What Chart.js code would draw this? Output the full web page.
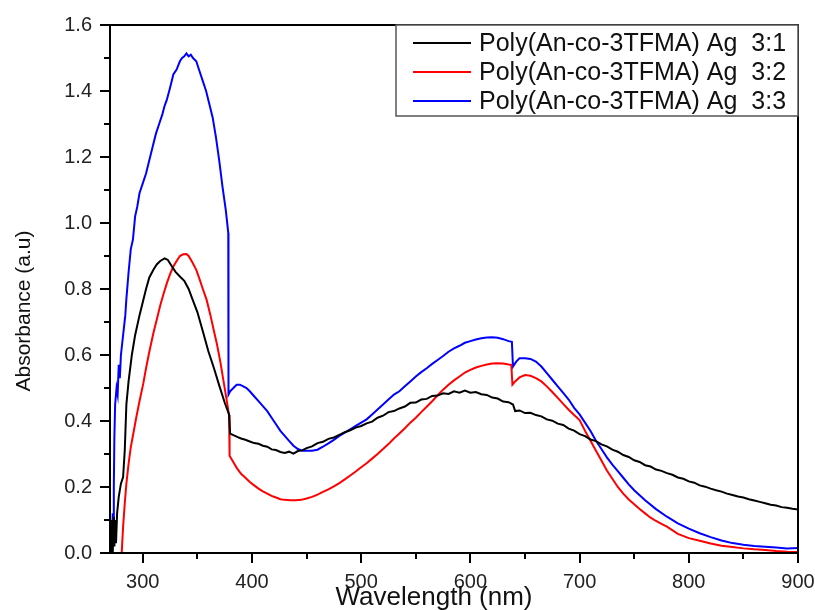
<!DOCTYPE html>
<html>
<head>
<meta charset="utf-8">
<script src="https://cdn.jsdelivr.net/npm/chart.js@4.4.1/dist/chart.umd.min.js"></script>
<style>
  html, body { margin: 0; padding: 0; background: #fff; }
</style>
</head>
<body>
<canvas id="uv" width="815" height="610"></canvas>
<script>
/* ===================================
   DATA
   =================================== */

const seriesLabels = [
  'Poly(An-co-3TFMA) Ag  3:1',
  'Poly(An-co-3TFMA) Ag  3:2',
  'Poly(An-co-3TFMA) Ag  3:3',
];
const seriesColors = ['#000000', '#ff0000', '#0000ff'];

const xTicks = [300, 400, 500, 600, 700, 800, 900];
const yTicks = [0, 0.2, 0.4, 0.6, 0.8, 1.0, 1.2, 1.4, 1.6];

// 3:1 (black)
const wlBlack = [
  271, 272, 272.5, 273.5, 274, 275, 275.5, 276.5, 278, 280, 282, 283.5, 285, 287, 290, 293, 297, 300,
  303, 306, 310, 313, 316, 320, 323, 326, 330, 334, 338, 342, 346, 350, 355, 360, 365, 370, 375, 379,
  380, 383, 387, 390, 394, 398, 402, 406, 410, 414, 418, 422, 426, 430, 434, 438, 442, 446, 450, 455,
  460, 465, 470, 475, 480, 485, 490, 495, 500, 505, 510, 515, 520, 525, 530, 535, 540, 545, 550, 555,
  560, 565, 570, 575, 580, 585, 590, 595, 600, 605, 610, 615, 620, 625, 630, 635, 639,
  641, 645, 650, 655, 660, 665, 670, 675, 680, 685, 690, 695, 700, 705, 710, 715, 720, 725, 730, 735,
  740, 745, 750, 755, 760, 765, 770, 775, 780, 785, 790, 795, 800, 805, 810, 815, 820, 825, 830, 835,
  840, 845, 850, 855, 860, 865, 870, 875, 880, 885, 890, 895, 900,
];
const absBlack = [
  0.0, 0.1, 0.0, 0.11, 0.02, 0.1, 0.03, 0.12, 0.17, 0.21, 0.23, 0.31, 0.45, 0.52, 0.6, 0.66, 0.72, 0.76,
  0.8, 0.835, 0.86, 0.875, 0.885, 0.893, 0.888, 0.872, 0.852, 0.838, 0.825, 0.8, 0.765, 0.73, 0.672, 0.612, 0.562, 0.508, 0.456, 0.42,
  0.362, 0.357, 0.351, 0.347, 0.343, 0.338, 0.333, 0.331, 0.325, 0.322, 0.314, 0.312, 0.306, 0.303, 0.307, 0.301, 0.309, 0.311, 0.318, 0.323,
  0.333, 0.337, 0.346, 0.35, 0.358, 0.366, 0.372, 0.38, 0.385, 0.393, 0.398, 0.41, 0.416, 0.427, 0.43, 0.438, 0.444, 0.455, 0.456, 0.465,
  0.467, 0.476, 0.477, 0.484, 0.482, 0.49, 0.486, 0.492, 0.486, 0.488, 0.481, 0.479, 0.471, 0.468, 0.459, 0.457, 0.45,
  0.43, 0.432, 0.424, 0.425, 0.418, 0.414, 0.405, 0.401, 0.392, 0.388, 0.377, 0.371, 0.36, 0.354, 0.344, 0.339, 0.329, 0.323, 0.313, 0.307,
  0.297, 0.291, 0.281, 0.276, 0.266, 0.262, 0.253, 0.249, 0.242, 0.237, 0.229, 0.225, 0.217, 0.213, 0.205, 0.201, 0.195, 0.19, 0.186, 0.18,
  0.176, 0.171, 0.168, 0.163, 0.159, 0.155, 0.151, 0.146, 0.144, 0.139, 0.137, 0.134, 0.132,
];

// 3:2 (red)
const wlRed = [
  280.7, 282, 283.5, 285, 287, 289, 291.4, 294, 297, 300.5, 303, 306, 309.7, 313, 316, 319, 322, 325,
  328, 331, 334, 337, 340, 342, 345, 349, 352, 355, 358.5, 362, 365, 368, 371, 374, 377, 379,
  379.5, 383, 386, 390, 394, 398, 402, 406, 410, 414, 418, 422, 426, 430, 435, 440, 445, 450, 455, 460,
  465, 470, 475, 480, 485, 490, 495, 500, 505, 510, 515, 520, 525, 530, 535, 540, 545, 550, 555, 560,
  565, 570, 575, 580, 585, 590, 595, 600, 605, 610, 615, 620, 625, 630, 635, 637.5,
  638.5, 641, 645, 650, 655, 660, 665, 670, 675, 680, 685, 690, 695, 700, 705, 710, 715, 720, 725, 730,
  735, 740, 745, 750, 755, 760, 765, 770, 775, 780, 790, 800, 810, 820, 830, 840, 850, 860, 870, 880, 890, 900,
];
const absRed = [
  0.0, 0.08, 0.15, 0.21, 0.27, 0.32, 0.363, 0.41, 0.46, 0.514, 0.56, 0.61, 0.666, 0.71, 0.75, 0.785, 0.817, 0.845,
  0.868, 0.885, 0.9, 0.905, 0.906, 0.9, 0.883, 0.858, 0.83, 0.8, 0.767, 0.72, 0.675, 0.632, 0.58, 0.52, 0.46, 0.418,
  0.295, 0.275, 0.258, 0.24, 0.228, 0.215, 0.205, 0.195, 0.187, 0.18, 0.173, 0.168, 0.163, 0.161, 0.16, 0.16, 0.161, 0.165, 0.17, 0.177,
  0.185, 0.193, 0.202, 0.212, 0.223, 0.235, 0.247, 0.26, 0.272, 0.286, 0.3, 0.315, 0.33, 0.347, 0.362, 0.378, 0.395, 0.41, 0.427, 0.443,
  0.46, 0.478, 0.495, 0.51, 0.523, 0.535, 0.547, 0.555, 0.562, 0.567, 0.571, 0.574, 0.575, 0.574, 0.571, 0.57,
  0.51, 0.52, 0.532, 0.539, 0.537, 0.53, 0.52, 0.505, 0.488, 0.47, 0.452, 0.434, 0.418, 0.403, 0.37, 0.34, 0.31, 0.28, 0.25, 0.225,
  0.2, 0.18, 0.162, 0.148, 0.133, 0.12, 0.107, 0.097, 0.088, 0.08, 0.058, 0.045, 0.037, 0.029, 0.022, 0.018, 0.014, 0.011, 0.009, 0.006, 0.004, 0.003,
];

// 3:3 (blue)
const wlBlue = [
  270.5, 271, 271.5, 272.5, 273, 273.5, 274, 274.7, 276, 277, 278, 279, 280, 282, 284, 285, 287, 289,
  291, 293, 295, 297, 300, 303, 306, 309, 312, 315, 318, 320, 322, 325, 328, 331, 334, 336, 338, 340,
  342, 344, 346, 349, 352, 355, 358, 361, 364, 367, 370, 373, 376, 378.3,
  378.5, 380, 383, 386, 389, 392, 395, 398, 402, 406, 410, 414, 418, 422, 426, 430, 434, 438, 442, 446,
  450, 455, 460, 465, 470, 475, 480, 485, 490, 495, 500, 505, 510, 515, 520, 525, 530, 535, 540, 545,
  550, 555, 560, 565, 570, 575, 580, 585, 590, 595, 600, 605, 610, 615, 620, 625, 630, 635, 638,
  639, 642, 645, 650, 655, 660, 665, 670, 675, 680, 685, 690, 695, 700, 705, 710, 715, 720, 725, 730,
  735, 740, 745, 750, 760, 770, 780, 790, 800, 810, 820, 830, 840, 850, 860, 870, 880, 890, 900,
];
const absBlue = [
  0.0, 0.1, 0.02, 0.12, 0.05, 0.2, 0.35, 0.45, 0.5, 0.48, 0.57, 0.53, 0.6, 0.66, 0.72, 0.77, 0.85, 0.92,
  0.95, 1.02, 1.05, 1.09, 1.12, 1.15, 1.19, 1.23, 1.27, 1.3, 1.33, 1.355, 1.373, 1.41, 1.45, 1.465, 1.49, 1.5, 1.505, 1.514,
  1.505, 1.51, 1.5, 1.49, 1.46, 1.43, 1.4, 1.36, 1.32, 1.26, 1.19, 1.11, 1.04, 0.97,
  0.48, 0.49, 0.5, 0.51, 0.51, 0.505, 0.5, 0.49, 0.475, 0.46, 0.445, 0.43, 0.41, 0.39, 0.37, 0.355, 0.34, 0.325, 0.315, 0.31,
  0.31, 0.31, 0.313, 0.322, 0.332, 0.343, 0.355, 0.365, 0.375, 0.385, 0.395, 0.405, 0.42, 0.435, 0.45, 0.465, 0.48, 0.49, 0.505, 0.52,
  0.535, 0.548, 0.56, 0.573, 0.585, 0.597, 0.61, 0.62, 0.628, 0.637, 0.642, 0.647, 0.651, 0.653, 0.654, 0.652, 0.648, 0.642, 0.64,
  0.565, 0.58, 0.59, 0.59, 0.588, 0.58, 0.565, 0.545, 0.525, 0.505, 0.485, 0.465, 0.44, 0.42, 0.395, 0.37, 0.34, 0.315, 0.29, 0.268,
  0.248, 0.228, 0.208, 0.19, 0.16, 0.133, 0.11, 0.09, 0.074, 0.06, 0.048, 0.038, 0.03, 0.025, 0.021, 0.019, 0.017, 0.014, 0.015,
];

/* ===================================
   HELPERS
   =================================== */

const FONT = '"Liberation Sans", Arial, sans-serif';

function toPoints(xs, ys) {
  return xs.map(function (x, i) { return { x: x, y: ys[i] }; });
}

// frame, minor/major tick marks, axis titles and the boxed legend
const framePlugin = {
  id: 'frame',
  afterDatasetsDraw(chart) {
    const ctx = chart.ctx;
    const a = chart.chartArea;
    const xs = chart.scales.x;
    const ys = chart.scales.y;
    ctx.save();
    ctx.strokeStyle = '#000';
    ctx.lineWidth = 2;
    ctx.strokeRect(a.left, a.top, a.right - a.left, a.bottom - a.top);

    ctx.beginPath();
    for (let v = 300; v <= 900; v += 50) {
      const px = Math.round(xs.getPixelForValue(v));
      const len = v % 100 === 0 ? 10 : 6;
      ctx.moveTo(px, a.bottom);
      ctx.lineTo(px, a.bottom + len);
    }
    for (let i = 0; i <= 16; i++) {
      const py = Math.round(ys.getPixelForValue(i / 10));
      const len = i % 2 === 0 ? 10 : 6;
      ctx.moveTo(a.left, py);
      ctx.lineTo(a.left - len, py);
    }
    ctx.stroke();

    ctx.fillStyle = '#111';
    ctx.textAlign = 'center';
    ctx.textBaseline = 'middle';
    ctx.font = '26px ' + FONT;
    ctx.fillText('Wavelength (nm)', 434, 598);
    ctx.save();
    ctx.translate(24, 311);
    ctx.rotate(-Math.PI / 2);
    ctx.font = '21px ' + FONT;
    ctx.fillText('Absorbance (a.u)', 0, 0);
    ctx.restore();

    // legend
    const box = { left: 396, top: 25, right: 798, bottom: 116 };
    ctx.fillStyle = '#fff';
    ctx.fillRect(box.left, box.top, box.right - box.left, box.bottom - box.top);
    ctx.strokeStyle = '#555';
    ctx.lineWidth = 1.5;
    ctx.strokeRect(box.left, box.top, box.right - box.left, box.bottom - box.top);
    ctx.font = '25px ' + FONT;
    ctx.textAlign = 'left';
    chart.data.datasets.forEach(function (ds, i) {
      const y = 43 + i * 29;
      ctx.strokeStyle = ds.borderColor;
      ctx.lineWidth = 2;
      ctx.beginPath();
      ctx.moveTo(413, y);
      ctx.lineTo(471, y);
      ctx.stroke();
      ctx.fillStyle = '#111';
      ctx.fillText(ds.label, 479, y + 1);
    });
    ctx.restore();
  },
};

/* ===================================
   CHART
   =================================== */

const datasets = [
  toPoints(wlBlack, absBlack),
  toPoints(wlRed, absRed),
  toPoints(wlBlue, absBlue),
].map(function (pts, i) {
  return {
    label: seriesLabels[i],
    data: pts,
    borderColor: seriesColors[i],
    borderWidth: 2,
    pointRadius: 0,
    tension: 0,
    fill: false,
  };
});

new Chart(document.getElementById('uv'), {
  type: 'line',
  data: { datasets: datasets },
  plugins: [framePlugin],
  options: {
    responsive: false,
    animation: false,
    parsing: false,
    layout: { padding: { top: 25, right: 17, left: 0, bottom: 0 } },
    plugins: { legend: { display: false }, tooltip: { enabled: false } },
    scales: {
      x: {
        type: 'linear',
        min: 270,
        max: 900,
        grid: { display: false, drawTicks: false },
        border: { display: false },
        ticks: { font: { family: FONT, size: 20 }, color: '#222', padding: 17, maxRotation: 0 },
        afterBuildTicks: function (s) { s.ticks = xTicks.map(function (v) { return { value: v }; }); },
        afterFit: function (s) { s.height = 57; s.paddingLeft = 0; s.paddingRight = 0; },
      },
      y: {
        type: 'linear',
        min: 0,
        max: 1.6,
        grid: { display: false, drawTicks: false },
        border: { display: false },
        ticks: {
          font: { family: FONT, size: 20 },
          color: '#222',
          padding: 18,
          callback: function (v) { return v.toFixed(1); },
        },
        afterBuildTicks: function (s) { s.ticks = yTicks.map(function (v) { return { value: v }; }); },
        afterFit: function (s) { s.width = 110; s.paddingTop = 0; s.paddingBottom = 0; },
      },
    },
  },
});
</script>
</body>
</html>
